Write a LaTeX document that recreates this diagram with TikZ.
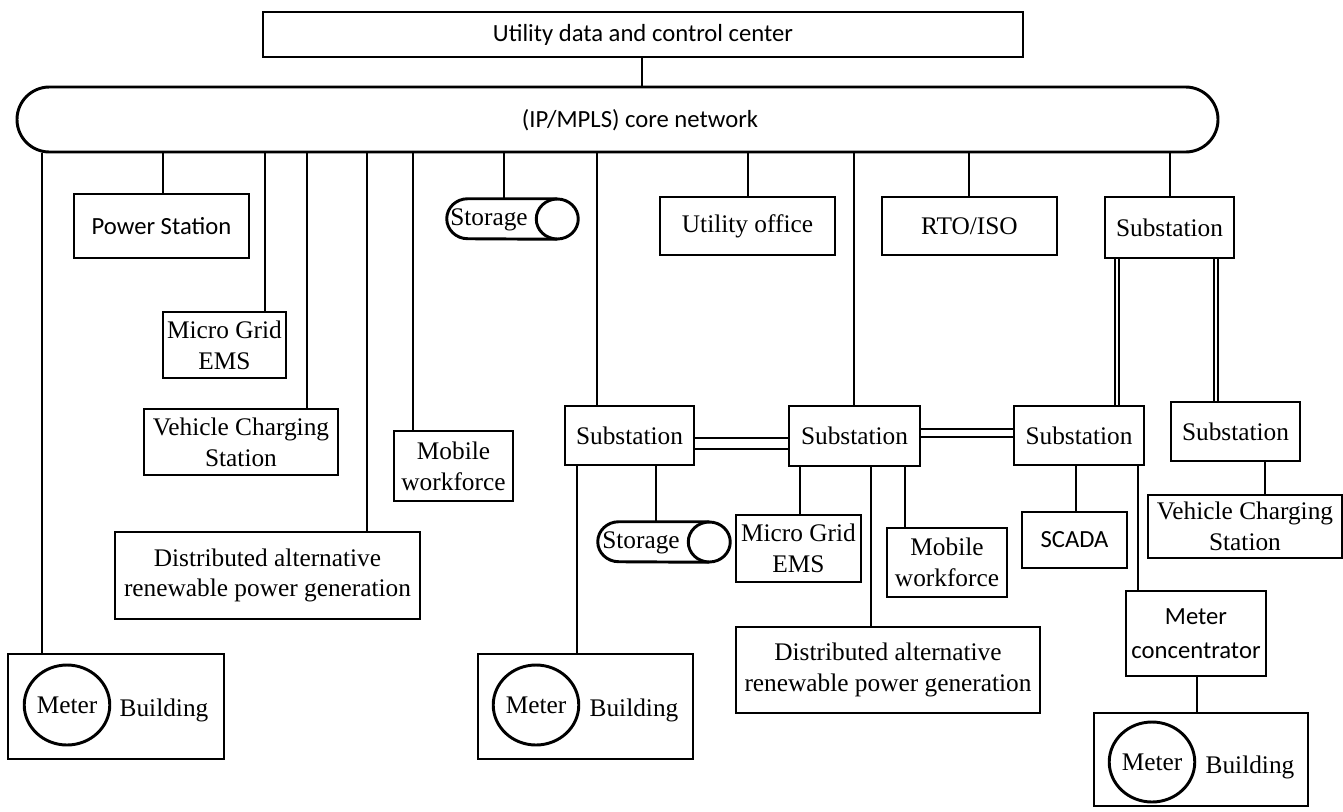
\documentclass[tikz,border=0pt]{standalone}
\usepackage{fontspec}
\setmainfont{Liberation Serif}
\newfontfamily\calibri{Carlito}
\usetikzlibrary{shapes.geometric}
\tikzset{
  lw/.style={line width=2.2pt},
  box/.style={draw, line width=2.2pt, rectangle, inner sep=0pt, align=center,
    font=\fontsize{19}{23}\selectfont},
  sbox/.style={box, font=\calibri\fontsize{18.5}{25.5}\selectfont},
  corebox/.style={draw, line width=2.2pt, rectangle, rounded corners=24.3pt, inner sep=0pt},
  stbox/.style={rectangle, inner sep=0pt},
  txt/.style={inner sep=0pt, align=center, font=\fontsize{19}{23}\selectfont},
  stxt/.style={inner sep=0pt, align=center, font=\calibri\fontsize{18.5}{23}\selectfont},
  meter/.style={draw, line width=2.2pt, ellipse, inner sep=0pt, minimum width=63pt,
    minimum height=60pt, font=\fontsize{19}{23}\selectfont},
  conn/.style={line width=2.2pt},
  dbl/.style={double, line width=1.2pt, double distance=1.8pt},
  hdbl/.style={line width=1.6pt}
}
\newcommand\bx[7]{\node[#1, minimum width={(#4-#2)*0.75pt}, minimum height={(#5-#3)*0.75pt}] (#6) at ({(#2+#4)/2},{(#3+#5)/2}) {#7};}
\newcommand\storeshape[1]{%
  \draw[lw] ([xshift=-15.75pt]#1.north east) -- ([xshift=15.75pt]#1.north west)
    arc[start angle=90, end angle=270, x radius=15.75pt, y radius=15pt]
    -- ([xshift=-15.75pt]#1.south east);
  \draw[lw] ([xshift=-15.75pt]#1.east) ellipse [x radius=15.75pt, y radius=15pt];}
\begin{document}
\begin{tikzpicture}[x=0.75pt, y=-0.75pt]
\useasboundingbox (0,0) rectangle (1343,811);
% top and core
\bx{sbox}{263}{12}{1023}{57}{top}{Utility data and control center}
\bx{corebox}{17}{87}{1218}{152}{core}{}
\node[stxt] (coretxt) at (640,120) {(IP/MPLS) core network};
% first row
\bx{sbox}{74}{194}{249}{258}{ps}{Power Station}
\bx{stbox}{447}{199}{578}{239}{st1}{}
\storeshape{st1}
\node[txt] (st1t) at (489,220) {Storage};
\bx{box}{660}{197}{835}{255}{uo}{Utility office}
\bx{box}{882}{197}{1057}{255}{rto}{RTO/ISO}
\bx{box}{1105}{197}{1234}{258}{sub0}{Substation}
% left column
\bx{box}{163}{312}{286}{378}{mg1}{Micro Grid\\EMS}
\bx{box}{144}{409}{338}{475}{vcs1}{Vehicle Charging\\Station}
\bx{box}{394}{431}{513}{501}{mw1}{Mobile\\workforce}
\bx{box}{115}{532}{420}{619}{dis1}{Distributed alternative\\renewable power generation}
\bx{box}{8}{654}{224}{759}{mb1}{}
\node[meter] (m1) at (67,705) {Meter};
\node[txt] (b1) at (164,710) {Building};
% substations
\bx{box}{565}{406}{694}{465}{sub1}{Substation}
\bx{box}{789}{406}{920}{466}{sub2}{Substation}
\bx{box}{1014}{406}{1144}{465}{sub3}{Substation}
\bx{box}{1171}{402}{1300}{461}{sub4}{Substation}
% lower
\bx{stbox}{598}{522}{730}{562}{st2}{}
\storeshape{st2}
\node[txt] (st2t) at (641,543) {Storage};
\bx{box}{478}{654}{693}{759}{mb2}{}
\node[meter] (m2) at (536,705) {Meter};
\node[txt] (b2) at (634,710) {Building};
\bx{box}{736}{515}{861}{582}{mg2}{Micro Grid\\EMS}
\bx{box}{887}{528}{1007}{597}{mw2}{Mobile\\workforce}
\bx{box}{736}{627}{1040}{713}{dis2}{Distributed alternative\\renewable power generation}
\bx{sbox}{1022}{512}{1127}{568}{scada}{SCADA}
\bx{sbox}{1126}{591}{1266}{676}{mc}{Meter\\concentrator}
\bx{box}{1148}{495}{1342}{558}{vcs2}{Vehicle Charging\\Station}
\bx{box}{1094}{713}{1308}{806}{mb3}{}
\node[meter] (m3) at (1152,762) {Meter};
\node[txt] (b3) at (1250,767) {Building};
% x positions of connectors
\foreach \n/\xx in {a/42,b/163,c/265,d/307,e/367,f/413,g/504,h/597,i/748,j/854,k/969,l/1170,
  m/577,n/656,o/800,p/871,q/905,r/1076,s/1138,t/1197,u/1265,v/1117,w/1216,z/642}
  {\coordinate (x\n) at (\xx,0);}
\draw[conn] (top.south -| xz) -- (core.north -| xz);
\draw[conn] (core.south -| xa) -- (mb1.north -| xa);
\draw[conn] (core.south -| xb) -- (ps.north -| xb);
\draw[conn] (core.south -| xc) -- (mg1.north -| xc);
\draw[conn] (core.south -| xd) -- (vcs1.north -| xd);
\draw[conn] (core.south -| xe) -- (dis1.north -| xe);
\draw[conn] (core.south -| xf) -- (mw1.north -| xf);
\draw[conn] (core.south -| xg) -- (st1.north -| xg);
\draw[conn] (core.south -| xh) -- (sub1.north -| xh);
\draw[conn] (core.south -| xi) -- (uo.north -| xi);
\draw[conn] (core.south -| xj) -- (sub2.north -| xj);
\draw[conn] (core.south -| xk) -- (rto.north -| xk);
\draw[conn] (core.south -| xl) -- (sub0.north -| xl);
\draw[dbl] (sub0.south -| xv) -- (sub3.north -| xv);
\draw[dbl] (sub0.south -| xw) -- (sub4.north -| xw);
\draw[conn] (sub1.south -| xm) -- (mb2.north -| xm);
\draw[conn] (sub1.south -| xn) -- (st2.north -| xn);
\draw[conn] (sub2.south -| xo) -- (mg2.north -| xo);
\draw[conn] (sub2.south -| xp) -- (dis2.north -| xp);
\draw[conn] (sub2.south -| xq) -- (mw2.north -| xq);
\draw[conn] (sub3.south -| xr) -- (scada.north -| xr);
\draw[conn] (sub3.south -| xs) -- (mc.north -| xs);
\draw[conn] (mc.south -| xt) -- (mb3.north -| xt);
\draw[conn] (sub4.south -| xu) -- (vcs2.north -| xu);
% horizontal double links
\coordinate (y1) at (0,438);
\coordinate (y2) at (0,449);
\coordinate (y3) at (0,429);
\coordinate (y4) at (0,437);
\draw[hdbl] (sub1.east |- y1) -- (sub2.west |- y1);
\draw[hdbl] (sub1.east |- y2) -- (sub2.west |- y2);
\draw[hdbl] (sub2.east |- y3) -- (sub3.west |- y3);
\draw[hdbl] (sub2.east |- y4) -- (sub3.west |- y4);
\end{tikzpicture}
\end{document}
